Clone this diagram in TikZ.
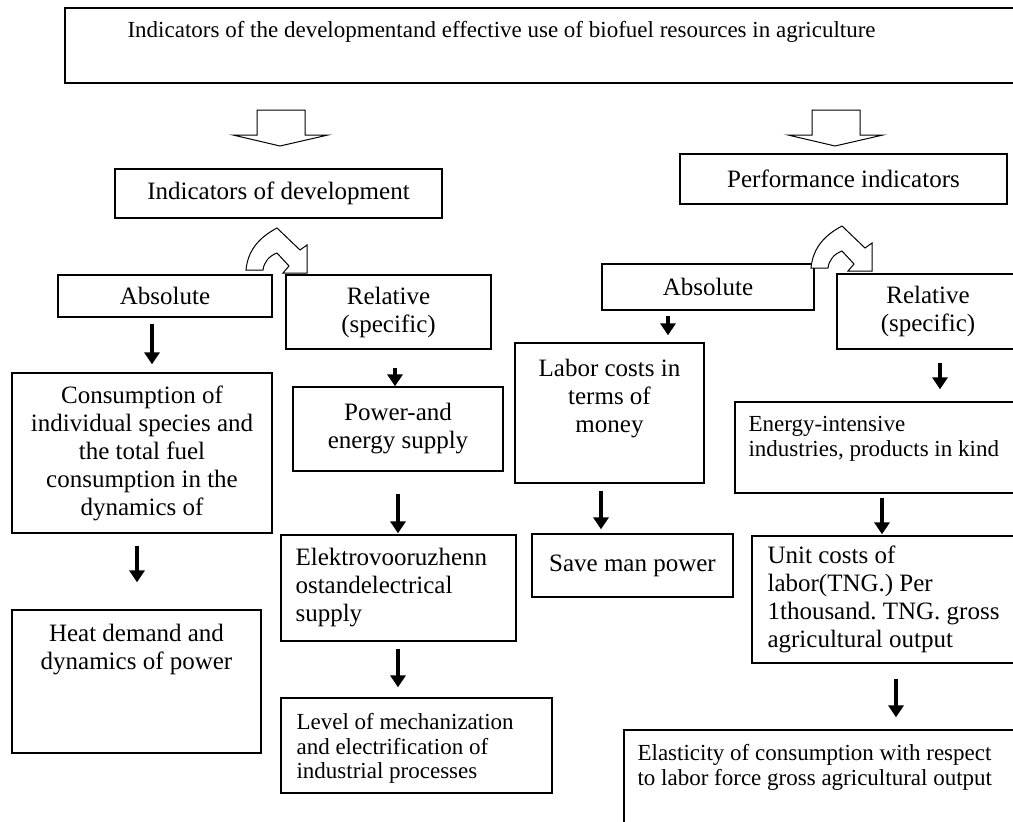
\documentclass[tikz,border=0pt]{standalone}
\usepackage{fontspec}
\setmainfont{Liberation Serif}
\usetikzlibrary{arrows.meta}
\newcommand\boxfont{\fontsize{25}{28}\selectfont}
\newcommand\notefont{\fontsize{23}{24.5}\selectfont}
\frenchspacing

\begin{document}
\begin{tikzpicture}[x=1pt,y=-1pt]

\tikzset{box/.style = {draw, line width=1.3pt, inner sep=0pt, align=center, font=\boxfont}}
\tikzset{txt/.style = {inner sep=0pt, align=center, font=\boxfont}}
\tikzset{note/.style = {inner sep=0pt, align=left, font=\notefont}}
\tikzset{edge/.style = {->, > = {Triangle[width=15pt,length=12pt]}, line width=3.4pt}}
\tikzset{hollow/.style = {draw, line width=1pt, fill=white}}

\fill[white] (0,0) rectangle (1013,822);
\useasboundingbox (0,0) rectangle (1013,822);
\clip (0,0) rectangle (1013,822);

% top
\node[box, minimum width=965pt, minimum height=75pt] (top) at (547.5,45.5) {};
\node[note, anchor=north west] (toptxt) at ([xshift=63pt,yshift=-14pt]top.north west) {Indicators of the developmentand effective use of biofuel resources in agriculture};

% block arrows
\foreach \tx in {280,835}
  \draw[hollow, shift={(\tx,146)}] (-23,-36) -- (25,-36) -- (25,-11) -- (48,-11) -- (0,0) -- (-47,-11) -- (-23,-11) -- cycle;

\node[box, minimum width=327pt, minimum height=49pt] (dev) at (278.5,193.5) {Indicators of development};
\node[box, minimum width=327pt, minimum height=50pt] (perf) at (843.5,179) {Performance indicators};

% development side
\node[box, minimum width=214pt, minimum height=42pt] (absl) at (165,296) {Absolute};
\node[box, minimum width=205pt, minimum height=74pt] (rell) at (388.5,312) {Relative\\(specific)};
\node[box, minimum width=260pt, minimum height=160pt] (cons) at (142,453) {Consumption of\\individual species and\\the total fuel\\consumption in the\\dynamics of};
\node[box, minimum width=249pt, minimum height=143pt] (heat) at (136.5,681.5) {};
\node[txt, anchor=north] (heattxt) at ([yshift=-15pt]heat.north) {Heat demand and\\dynamics of power};
\node[box, minimum width=210pt, minimum height=84pt] (power) at (398,429) {Power-and\\energy supply};
\node[box, minimum width=235pt, minimum height=106pt] (elek) at (398.5,588) {};
\node[txt, align=left, anchor=west] (elektxt) at ([xshift=15pt]elek.west) {Elektrovooruzhenn\\ostandelectrical\\supply};
\node[box, minimum width=271pt, minimum height=95pt] (level) at (416.5,745.5) {};
\node[note, anchor=north west] (leveltxt) at ([xshift=16pt,yshift=-16pt]level.north west) {Level of mechanization\\and electrification of\\industrial processes};

% performance side
\node[box, minimum width=212pt, minimum height=46pt] (absr) at (708,287) {Absolute};
\node[box, minimum width=182pt, minimum height=75pt] (relr) at (928,311.5) {Relative\\(specific)};
\node[box, minimum width=189pt, minimum height=140pt] (labor) at (609.5,413) {};
\node[txt, anchor=north] (labortxt) at ([yshift=-17pt]labor.north) {Labor costs in\\terms of\\money};
\node[box, minimum width=201pt, minimum height=63pt] (save) at (632.5,565.5) {Save man power};
\node[box, minimum width=290pt, minimum height=91pt] (energy) at (880,447.5) {};
\node[note, anchor=north west] (energytxt) at ([xshift=14pt,yshift=-15pt]energy.north west) {Energy-intensive\\industries, products in kind};
\node[box, minimum width=297pt, minimum height=127pt] (unit) at (900.5,599.5) {};
\node[txt, align=left, anchor=west] (unittxt) at ([xshift=16pt]unit.west) {Unit costs of\\labor(TNG.) Per\\1thousand. TNG. gross\\agricultural output};
\node[box, minimum width=400pt, minimum height=110pt] (elast) at (824,785) {};
\node[note, anchor=north west] (elasttxt) at ([xshift=14pt,yshift=-15pt]elast.north west) {Elasticity of consumption with respect\\to labor force gross agricultural output};

% curved arrows
\foreach \tx/\ty in {277/228, 842/226}
  \draw[hollow, shift={(\tx,\ty)}] (-31,42) .. controls (-29,20) and (-15,8) .. (0,0) -- (23,22) -- (30,17) -- (30,45) -- (6,45) -- (12,38) -- (0,25) .. controls (-8,28) and (-13,34) .. (-14,42) -- cycle;

% arrows
\draw[edge, shorten <=6pt, shorten >=8pt] ([xshift=-13pt]absl.south) -- ([xshift=10pt]cons.north);
\draw[edge, shorten <=12pt, shorten >=27pt] ([xshift=-5pt]cons.south) -- ([xshift=0.5pt]heat.north);
\draw[edge, shorten <=18pt, shorten >=0pt] ([xshift=6.5pt]rell.south) -- ([xshift=-3pt]power.north);
\draw[edge, shorten <=22pt, shorten >=1pt] (power.south) -- ([xshift=-0.5pt]elek.north);
\draw[edge, shorten <=7pt, shorten >=10pt] ([xshift=-0.5pt]elek.south) -- ([xshift=-18.5pt]level.north);
\draw[edge, shorten <=5pt, shorten >=7pt] ([xshift=-40pt]absr.south) -- ([xshift=58.5pt]labor.north);
\draw[edge, shorten <=7pt, shorten >=4pt] ([xshift=-8.5pt]labor.south) -- ([xshift=-31.5pt]save.north);
\draw[edge, shorten <=13pt, shorten >=12pt] ([xshift=12pt]relr.south) -- ([xshift=60pt]energy.north);
\draw[edge, shorten <=4pt, shorten >=1pt] ([xshift=2pt]energy.south) -- ([xshift=-18.5pt]unit.north);
\draw[edge, shorten <=15pt, shorten >=12pt] ([xshift=-4.5pt]unit.south) -- ([xshift=72pt]elast.north);

\end{tikzpicture}
\end{document}
